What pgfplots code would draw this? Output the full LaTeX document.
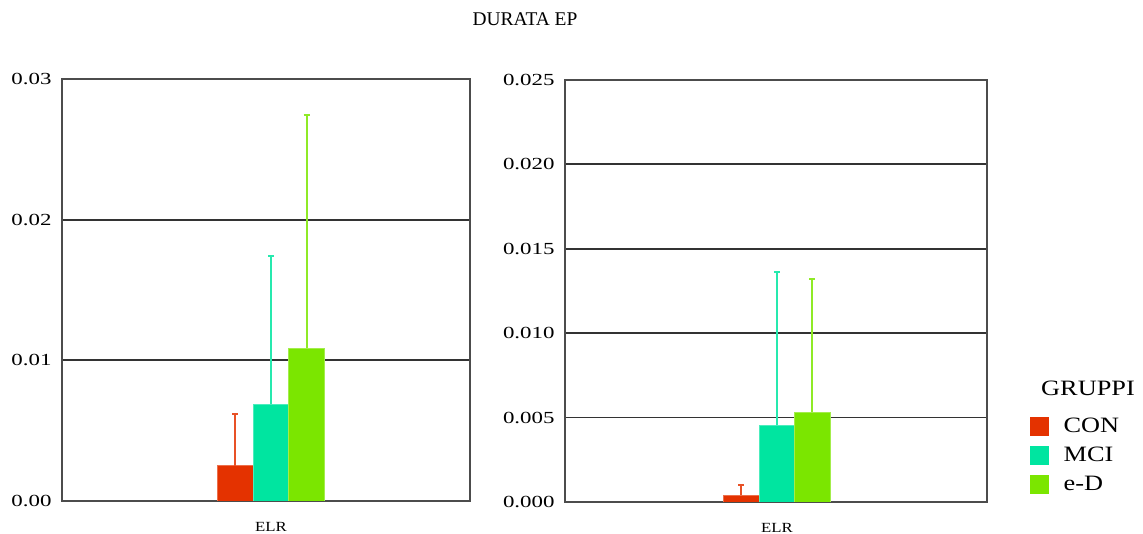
\documentclass[border=0pt]{standalone}
\usepackage{fontspec}
\setmainfont{Liberation Serif}
\newfontfamily\tickfont[FakeStretch=1.35]{Liberation Serif}
\newfontfamily\legfont[FakeStretch=1.2]{Liberation Serif}
\usepackage{pgfplots}
\pgfplotsset{compat=1.18}
\definecolor{conc}{RGB}{228,50,0}
\definecolor{mcic}{RGB}{0,229,160}
\definecolor{edc}{RGB}{123,230,0}
\pgfplotsset{
  common/.style={
    anchor=south west, scale only axis,
    ymajorgrids, grid style={black!80, line width=1.8bp},
    axis line style={black!70, line width=1.8bp},
    tick style={draw=none},
    scaled y ticks=false,
    xtick={0}, xticklabels={ELR},
    xticklabel style={font=\legfont\fontsize{14}{16}\selectfont, yshift=-14bp},
    yticklabel style={xshift=-7bp},
    ybar=0pt, bar width=1,
  },
  cstyle/.style={fill=#1, draw=#1!70!white, line width=0.8bp,
    error bars/.cd, y dir=plus, y explicit,
    error bar style={draw=#1!85!white, line width=2bp},
    error mark options={rotate=90, draw=#1!85!white, line width=2bp, mark size=3bp}},
}
\begin{document}
\begin{tikzpicture}
\path[use as bounding box] (0bp,0bp) rectangle (1143bp,534bp);
\node[anchor=base, font=\fontsize{19.5}{22}\selectfont] at (525bp,508bp) {DURATA EP};
\begin{axis}[common, at={(62bp,33bp)}, width=408bp, height=422bp,
  xmin=-5.85, xmax=5.57, ymin=0, ymax=0.03, ytick={0,0.01,0.02,0.03},
  yticklabel style={font=\tickfont\fontsize{17}{20}\selectfont, /pgf/number format/.cd, fixed, fixed zerofill, precision=2, assume math mode=true}]
\addplot[bar shift=-1, cstyle=conc] coordinates {(0,0.00251) +- (0,0.00369)};
\addplot[bar shift=0, cstyle=mcic] coordinates {(0,0.00687) +- (0,0.01052)};
\addplot[bar shift=1, cstyle=edc] coordinates {(0,0.01085) +- (0,0.01661)};
\end{axis}
\begin{axis}[common, at={(565bp,32bp)}, width=422bp, height=422bp,
  xmin=-5.97, xmax=5.92, ymin=0, ymax=0.025, ytick={0,0.005,0.01,0.015,0.02,0.025},
  yticklabel style={font=\tickfont\fontsize{17}{20}\selectfont, /pgf/number format/.cd, fixed, fixed zerofill, precision=3, assume math mode=true},
  legend style={at={(axis description cs:1.102,0.204)}, anchor=north west, draw=none, fill=none, inner sep=0pt, row sep=9bp,
    font=\legfont\fontsize{22}{24}\selectfont, cells={anchor=west}},
  legend cell align=left,
  legend image code/.code={\fill[#1,draw=none] (0bp,-9.5bp) rectangle (19bp,9.5bp); \path (31bp,0bp);}]
\addplot[bar shift=-1, cstyle=conc] coordinates {(0,0.00041) +- (0,0.00059)};
\addlegendentry{CON}
\addplot[bar shift=0, cstyle=mcic] coordinates {(0,0.00455) +- (0,0.00906)};
\addlegendentry{MCI}
\addplot[bar shift=1, cstyle=edc] coordinates {(0,0.00532) +- (0,0.0079)};
\addlegendentry{e-D}
\end{axis}
\node[anchor=base, font=\legfont\fontsize{22}{24}\selectfont] at (1088bp,138bp) {GRUPPI};
\end{tikzpicture}
\end{document}
